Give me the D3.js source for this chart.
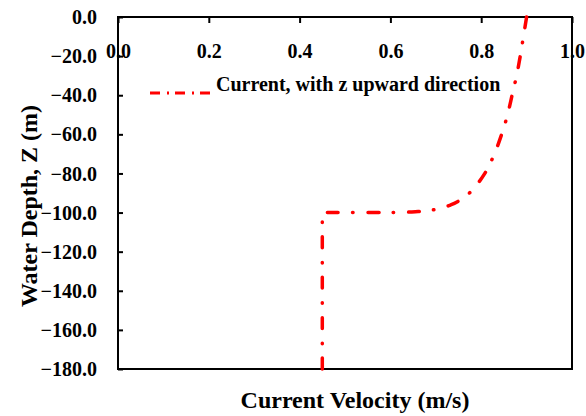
<!DOCTYPE html>
<html><head><meta charset="utf-8">
<script src="https://cdn.jsdelivr.net/npm/d3@7"></script>
<style>body{margin:0;background:#fff}svg{display:block}</style>
</head><body>
<script>
const depth = [0, -10, -20, -30, -40, -50, -60, -70, -80, -85, -90, -94, -96, -98, -99, -99.5, -99.9, -100, -120, -140, -160, -180];
const velocity = [0.900, 0.893, 0.886, 0.878, 0.868, 0.858, 0.845, 0.829, 0.808, 0.793, 0.774, 0.751, 0.734, 0.707, 0.683, 0.661, 0.617, 0.450, 0.450, 0.450, 0.450, 0.450];
const xTicks = [0, 0.2, 0.4, 0.6, 0.8, 1.0];
const yTicks = [0, -20, -40, -60, -80, -100, -120, -140, -160, -180];
const seriesName = "Current, with z upward direction";
const xTitle = "Current Velocity (m/s)";
const yTitle = "Water Depth, Z (m)";

const FONT = "'Liberation Serif', 'Times New Roman', Times, serif";
const W = 586, H = 416;
const m = {left: 118, right: 572, top: 17, bottom: 369};
const svg = d3.select("body").append("svg").attr("width", W).attr("height", H);
const x = d3.scaleLinear().domain([0, 1]).range([m.left, m.right]);
const y = d3.scaleLinear().domain([-180, 0]).range([m.bottom, m.top]);

svg.append("rect").attr("x", m.left).attr("y", m.top).attr("width", m.right - m.left).attr("height", m.bottom - m.top)
  .attr("fill", "none").attr("stroke", "#000").attr("stroke-width", 2);

const xa = svg.append("g").attr("transform", `translate(0,${m.top})`)
  .call(d3.axisBottom(x).tickValues(xTicks).tickFormat(d3.format(".1f")).tickSizeInner(6).tickSizeOuter(0).tickPadding(21));
xa.attr("font-family", FONT).attr("font-size", 20).attr("font-weight", "bold");
xa.select(".domain").remove();
xa.selectAll("line").attr("stroke", "#000").attr("stroke-width", 2);

const ya = svg.append("g").attr("transform", `translate(${m.left},0)`)
  .call(d3.axisRight(y).tickValues(yTicks).tickFormat(d3.format(".1f")).tickSizeInner(5).tickSizeOuter(0));
ya.attr("font-family", FONT).attr("font-size", 20).attr("font-weight", "bold");
ya.select(".domain").remove();
ya.selectAll("line").attr("stroke", "#000").attr("stroke-width", 2);
ya.selectAll("text").attr("text-anchor", "end").attr("x", -21).attr("dy", "0.33em");

const line = d3.line().x((d, i) => x(velocity[i])).y(d => y(d)).curve(d3.curveMonotoneY);
const path = svg.append("path").datum(depth).attr("d", line).attr("fill", "none")
  .attr("stroke", "#ff0000").attr("stroke-width", 3.5).attr("stroke-linecap", "round");
// fit dash-dot pattern so the line starts and ends with a dash
const L = path.node().getTotalLength();
const dash = 11, basePeriod = 41;
const n = Math.max(1, Math.round((L - dash) / basePeriod));
const k = ((L - dash) / n) / basePeriod;
path.attr("stroke-dasharray", [dash * k, 15 * k, 0.5 * k, 14.5 * k].join(","));

const txt = (sel) => sel.attr("font-family", FONT).attr("font-weight", "bold").attr("fill", "#000");
svg.append("line").attr("x1", 150).attr("x2", 211).attr("y1", 93).attr("y2", 93)
  .attr("stroke", "#ff0000").attr("stroke-width", 3).attr("stroke-dasharray", "10,7,2,6");
svg.append("text").call(txt).attr("x", 216).attr("y", 91).attr("font-size", 20).text(seriesName);

svg.append("text").call(txt).attr("x", 355).attr("y", 408).attr("text-anchor", "middle").attr("font-size", 24).text(xTitle);
svg.append("text").call(txt).attr("transform", "translate(37,206) rotate(-90)").attr("text-anchor", "middle").attr("font-size", 24).text(yTitle);
</script>
</body></html>
